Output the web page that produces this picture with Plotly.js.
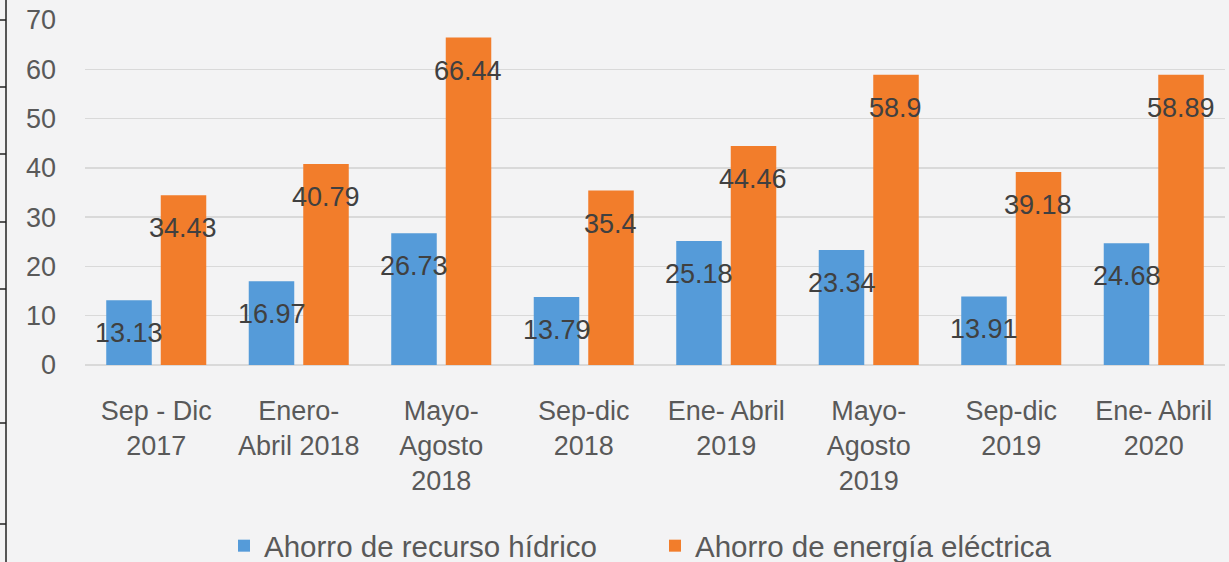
<!DOCTYPE html>
<html>
<head>
<meta charset="utf-8">
<script src="https://cdn.plot.ly/plotly-3.0.1.min.js"></script>
<style>
  html, body { margin: 0; padding: 0; background: #f3f3f4; overflow: hidden; }
  #chart { width: 1229px; height: 590px; }
</style>
</head>
<body>
<div id="chart"></div>
<script>
const categories = [
  "Sep - Dic<br>2017",
  "Enero-<br>Abril 2018",
  "Mayo-<br>Agosto<br>2018",
  "Sep-dic<br>2018",
  "Ene- Abril<br>2019",
  "Mayo-<br>Agosto<br>2019",
  "Sep-dic<br>2019",
  "Ene- Abril<br>2020"
];
const hidrico = [13.13, 16.97, 26.73, 13.79, 25.18, 23.34, 13.91, 24.68];
const electrica = [34.43, 40.79, 66.44, 35.4, 44.46, 58.9, 39.18, 58.89];
const seriesNames = ["Ahorro de recurso hídrico", "Ahorro de energía eléctrica"];
const yTicks = [0, 10, 20, 30, 40, 50, 60, 70];

const FONT = "'Liberation Sans', Arial, sans-serif";
// layout is slightly taller than the 562px window so the legend never pushes the margins
const W = 1229, H = 590;
const M = {l: 85, r: 4, t: 20, b: H - 365};
const PW = W - M.l - M.r, PH = H - M.t - M.b;
const px2x = p => (p - M.l) / PW;
const py2y = p => (H - M.b - p) / PH;

const traces = [
  {type: 'bar', name: seriesNames[0], x: categories, y: hidrico,
   marker: {color: '#559bd9'}, hoverinfo: 'skip'},
  {type: 'bar', name: seriesNames[1], x: categories, y: electrica,
   marker: {color: '#f27d2b'}, hoverinfo: 'skip'}
];

const annotations = [];
[hidrico, electrica].forEach((arr, si) => {
  arr.forEach((v, i) => {
    annotations.push({
      x: categories[i], y: v, xref: 'x', yref: 'y',
      text: String(v), showarrow: false,
      xshift: si === 0 ? -27 : 27, yshift: -33,
      font: {family: FONT, size: 27, color: '#404040'}
    });
  });
});

// decorative left border line with ticks (document frame)
const shapes = [{
  type: 'line', xref: 'paper', yref: 'paper',
  x0: px2x(6), x1: px2x(6), y0: py2y(0), y1: py2y(H),
  line: {color: '#222', width: 1.5}
}];
[20, 87, 154, 222, 289, 423, 524].forEach(p => {
  shapes.push({type: 'line', xref: 'paper', yref: 'paper',
    x0: px2x(0), x1: px2x(6), y0: py2y(p), y1: py2y(p),
    line: {color: '#222', width: 1.5}});
});

const layout = {
  width: W, height: H,
  margin: M,
  paper_bgcolor: '#f3f3f4',
  plot_bgcolor: 'rgba(0,0,0,0)',
  barmode: 'group',
  bargap: 0.235,
  bargroupgap: 0.165,
  showlegend: true,
  font: {family: FONT, color: '#595959', size: 28},
  xaxis: {
    type: 'category', automargin: false,
    tickfont: {family: FONT, size: 27, color: '#595959'},
    showgrid: false, showline: false, zeroline: false,
    ticks: '', ticklabelstandoff: 27
  },
  yaxis: {
    range: [0, 70], automargin: false,
    tickvals: yTicks,
    tickfont: {family: FONT, size: 27, color: '#595959'},
    showgrid: true, gridcolor: '#d9d9d9', gridwidth: 1.5,
    zeroline: true, zerolinecolor: '#d9d9d9', zerolinewidth: 1.5,
    showline: false, ticks: '', ticklabelstandoff: 28
  },
  legend: {
    orientation: 'h', x: px2x(224), xanchor: 'left',
    y: py2y(546), yanchor: 'middle',
    entrywidth: 386, entrywidthmode: 'pixels',
    font: {family: FONT, size: 29.5, color: '#595959'},
    bgcolor: 'rgba(0,0,0,0)'
  },
  annotations: annotations,
  shapes: shapes
};

Plotly.newPlot('chart', traces, layout, {displayModeBar: false, staticPlot: true});
</script>
</body>
</html>
